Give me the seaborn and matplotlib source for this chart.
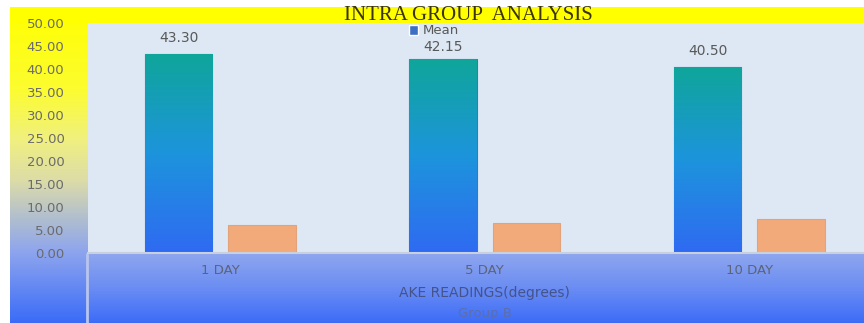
import numpy as np
import pandas as pd
import seaborn as sns
import matplotlib
matplotlib.use("Agg")
import matplotlib.pyplot as plt
from matplotlib.colors import LinearSegmentedColormap
from matplotlib.patches import Patch, Rectangle
from matplotlib.ticker import FormatStrFormatter

# --- Data ---
categories = ["1 DAY", "5 DAY", "10 DAY"]
mean_values = [43.30, 42.15, 40.50]
sd_values = [6.10, 6.45, 7.45]
series_names = ["Mean", "SD"]
y_ticks = [0, 5, 10, 15, 20, 25, 30, 35, 40, 45, 50]

title = "INTRA GROUP  ANALYSIS"
x_title = "AKE READINGS(degrees)"
group_label = "Group B"

df = pd.DataFrame({
    "Day": categories * 2,
    "Value": mean_values + sd_values,
    "Series": [series_names[0]] * 3 + [series_names[1]] * 3,
})

sns.set_style("white")
plt.rcParams["font.family"] = ["DejaVu Sans"]

W, H = 864, 323
fig = plt.figure(figsize=(W / 100, H / 100), dpi=100)
fig.patch.set_facecolor("white")

# --- Background panels (title band, left yellow->blue column, blue axis band) ---
bg = fig.add_axes([0, 0, 1, 1], zorder=0)
bg.set_xlim(0, W)
bg.set_ylim(H, 0)
bg.axis("off")

bg.add_patch(Rectangle((10, 7), W - 10, 16, color="#ffff00", lw=0))

left_cmap = LinearSegmentedColormap.from_list("left", [
    (0.00, "#ffff00"), (0.26, "#fcfc30"), (0.42, "#f0f080"),
    (0.55, "#dcdca8"), (0.66, "#b4c0cc"), (0.78, "#8ca4ee"), (1.00, "#3b6cf8")])
grad = np.linspace(0, 1, 256).reshape(-1, 1)
bg.imshow(grad, cmap=left_cmap, extent=[10, 88, H, 7], aspect="auto", origin="upper")

bottom_cmap = LinearSegmentedColormap.from_list("bottom", ["#8ea6ef", "#6a8cf3", "#3c6cf8"])
bg.imshow(grad, cmap=bottom_cmap, extent=[88, W, H, 254], aspect="auto", origin="upper")
bg.plot([87, 87], [254, H], color="#b9c5ee", lw=2)
bg.set_xlim(0, W)
bg.set_ylim(H, 0)

# --- Main plot ---
ax = fig.add_axes([88 / W, (H - 253) / H, (W - 88) / W, 230 / H], zorder=1)
ax.set_facecolor("#dde8f4")

sns.barplot(data=df, x="Day", y="Value", hue="Series",
            palette={"Mean": "#1f8fd0", "SD": "#f2aa7a"},
            width=0.63, gap=0.19, saturation=1, errorbar=None,
            legend=False, ax=ax)

# soft border on the SD bars
for bar in ax.containers[1]:
    bar.set_edgecolor("#e3a37a")
    bar.set_linewidth(0.8)

# gradient fill on the Mean bars (blue at bottom, teal at top)
mean_cmap = LinearSegmentedColormap.from_list("mean", ["#2f6af2", "#1d94dc", "#0fa69a"])
for bar in ax.containers[0]:
    bar.set_edgecolor("#3a78b0")
    bar.set_linewidth(0.8)
    x0, w, h = bar.get_x(), bar.get_width(), bar.get_height()
    im = ax.imshow(grad, cmap=mean_cmap, extent=[x0, x0 + w, 0, h],
                   aspect="auto", origin="lower", zorder=bar.get_zorder() + 0.1)
    im.set_clip_path(bar)

labels = ax.bar_label(ax.containers[0], fmt="%.2f", padding=6, fontsize=10, color="#595959")
labels[1].xyann = (0, 3.5)  # middle label sits a little lower, under the legend

ax.set_xlim(-0.5, -0.5 + (W - 88) / 264.5)
ax.set_ylim(0, 50)
ax.set_yticks(y_ticks)
ax.yaxis.set_major_formatter(FormatStrFormatter("%.2f"))
ax.tick_params(axis="y", length=0, pad=17, labelsize=9.5, labelcolor="#6b6b6b")
ax.tick_params(axis="x", length=0, pad=8, labelsize=9.5, labelcolor="#5c6478")

for side in ["top", "right", "left"]:
    ax.spines[side].set_visible(False)
ax.spines["bottom"].set_color("#c8d0dc")
ax.spines["bottom"].set_linewidth(1.5)

ax.set_ylabel("")
ax.set_xlabel(x_title, fontsize=10, color="#44548a")
ax.xaxis.set_label_coords((484 - 88) / (W - 88), -0.174)
ax.xaxis.label.set_va("center")
ax.text(1, -0.265, group_label, transform=ax.get_xaxis_transform(),
        ha="center", va="center", fontsize=9.5, color="#5a6fb0")

ax.legend(handles=[Patch(facecolor="#3d6fc2")], labels=[series_names[0]],
          loc="center", bbox_to_anchor=(0.446, (253 - 31) / 230), frameon=False,
          handlelength=0.7, handleheight=0.7, handletextpad=0.4,
          fontsize=9.5, labelcolor="#5a5a5a", borderpad=0)

fig.text(468.5 / W, 1 - 15 / H, title, family="Liberation Serif", fontsize=15,
         color="#3b3300", ha="center", va="center", zorder=5)

plt.savefig("out.png", dpi=100)
